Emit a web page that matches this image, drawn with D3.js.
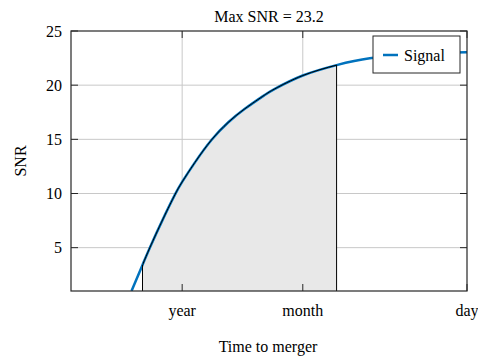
<!DOCTYPE html>
<html>
<head>
<meta charset="utf-8">
<script src="https://cdn.jsdelivr.net/npm/d3@7"></script>
<style>
  body { margin: 0; background: #fff; }
  text { font-family: "Liberation Serif", "Times New Roman", serif; fill: #000; }
</style>
</head>
<body>
<div id="chart"></div>
<script>
// time to merger (days) and SNR along the signal curve
const days = [1042, 830, 713, 542, 425, 365, 281, 199, 141, 99.6, 66.8, 53.5, 30, 14.9, 7.5, 2.65, 1];
const snr  = [1.0, 3.4, 5.0, 7.66, 9.87, 11.07, 12.85, 14.94, 16.55, 17.82, 19.06, 19.66, 20.89, 21.85, 22.48, 22.88, 23.03];
// shaded window (days)
const shadeFrom = 830, shadeTo = 14.9;
const xTickVals = [365, 30, 1];
const xTickLabels = ["year", "month", "day"];
const yTickVals = [5, 10, 15, 20, 25];
const title = "Max SNR = 23.2";

const W = 478, H = 356;
const margin = {top: 31, right: 11, bottom: 65, left: 71};
const iw = W - margin.left - margin.right;
const ih = H - margin.top - margin.bottom;
const fs = 16;

const svg = d3.select("#chart").append("svg").attr("width", W).attr("height", H);
const g = svg.append("g").attr("transform", `translate(${margin.left},${margin.top})`);

const x = d3.scaleLog().domain([3650, 1]).range([0, iw]);
const y = d3.scaleLinear().domain([1, 25]).range([ih, 0]);

const defs = svg.append("defs");
defs.append("clipPath").attr("id", "clip")
  .append("rect").attr("width", iw).attr("height", ih);
defs.append("clipPath").attr("id", "shadeclip")
  .append("rect").attr("x", x(shadeFrom)).attr("width", x(shadeTo) - x(shadeFrom))
  .attr("y", -5).attr("height", ih + 5);

// grid
g.append("g").selectAll("line").data(xTickVals.slice(0, 2)).join("line")
  .attr("x1", d => x(d)).attr("x2", d => x(d)).attr("y1", 0).attr("y2", ih)
  .attr("stroke", "#c8c8c8").attr("stroke-width", 1);
g.append("g").selectAll("line").data(yTickVals.slice(0, 4)).join("line")
  .attr("x1", 0).attr("x2", iw).attr("y1", d => y(d)).attr("y2", d => y(d))
  .attr("stroke", "#c8c8c8").attr("stroke-width", 1);

const pts = days.map((d, i) => [d, snr[i]]);
const curve = d3.curveNatural;
const line = d3.line().x(d => x(d[0])).y(d => y(d[1])).curve(curve);
const area = d3.area().x(d => x(d[0])).y0(y(1)).y1(d => y(d[1])).curve(curve);

const plot = g.append("g").attr("clip-path", "url(#clip)");
// shaded window under the curve
const shade = plot.append("g").attr("clip-path", "url(#shadeclip)");
shade.append("path").datum(pts).attr("d", area)
  .attr("fill", "#e8e8e8").attr("stroke", "none");
plot.append("path").datum(pts).attr("d", line)
  .attr("fill", "none").attr("stroke", "#0072bd").attr("stroke-width", 2.5);
plot.append("g").attr("clip-path", "url(#shadeclip)")
  .append("path").datum(pts).attr("d", line)
  .attr("fill", "none").attr("stroke", "#000").attr("stroke-width", 1);
const edges = [shadeFrom, shadeTo].map(d => [d, snr[days.indexOf(d)]]);
plot.selectAll("line.edge").data(edges).join("line").attr("class", "edge")
  .attr("x1", d => x(d[0])).attr("x2", d => x(d[0]))
  .attr("y1", d => y(d[1])).attr("y2", ih)
  .attr("stroke", "#000").attr("stroke-width", 1);

// frame and ticks
g.append("rect").attr("width", iw).attr("height", ih)
  .attr("fill", "none").attr("stroke", "#262626").attr("stroke-width", 1.2);

const yTicks = g.append("g");
yTicks.selectAll("line.l").data(yTickVals).join("line").attr("class", "l")
  .attr("x1", 0).attr("x2", 7).attr("y1", d => y(d)).attr("y2", d => y(d))
  .attr("stroke", "#262626");
yTicks.selectAll("line.r").data(yTickVals).join("line").attr("class", "r")
  .attr("x1", iw).attr("x2", iw - 7).attr("y1", d => y(d)).attr("y2", d => y(d))
  .attr("stroke", "#262626");
yTicks.selectAll("text").data(yTickVals).join("text")
  .attr("x", -9).attr("y", d => y(d)).attr("dy", "0.35em")
  .attr("text-anchor", "end").attr("font-size", fs).text(d => d);

const xTicks = g.append("g");
xTicks.selectAll("line.b").data(xTickVals).join("line").attr("class", "b")
  .attr("x1", d => x(d)).attr("x2", d => x(d)).attr("y1", ih).attr("y2", ih - 7)
  .attr("stroke", "#262626");
xTicks.selectAll("line.t").data(xTickVals).join("line").attr("class", "t")
  .attr("x1", d => x(d)).attr("x2", d => x(d)).attr("y1", 0).attr("y2", 7)
  .attr("stroke", "#262626");
xTicks.selectAll("text").data(xTickVals).join("text")
  .attr("x", d => x(d)).attr("y", ih + 25)
  .attr("text-anchor", "middle").attr("font-size", fs).text((d, i) => xTickLabels[i]);

// labels
svg.append("text").attr("x", margin.left + iw / 2).attr("y", 22)
  .attr("text-anchor", "middle").attr("font-size", fs).text(title);
svg.append("text").attr("x", 268).attr("y", 352)
  .attr("text-anchor", "middle").attr("font-size", fs).text("Time to merger");
svg.append("text").attr("transform", `translate(26,${margin.top + ih / 2}) rotate(-90)`)
  .attr("text-anchor", "middle").attr("font-size", fs).text("SNR");

// legend
const lg = svg.append("g").attr("transform", "translate(373,36)");
lg.append("rect").attr("width", 87).attr("height", 37)
  .attr("fill", "#fff").attr("stroke", "#262626").attr("stroke-width", 1);
lg.append("line").attr("x1", 10).attr("x2", 25).attr("y1", 19).attr("y2", 19)
  .attr("stroke", "#0072bd").attr("stroke-width", 2.5);
lg.append("text").attr("x", 31).attr("y", 19).attr("dy", "0.35em")
  .attr("font-size", fs).text("Signal");
</script>
</body>
</html>
